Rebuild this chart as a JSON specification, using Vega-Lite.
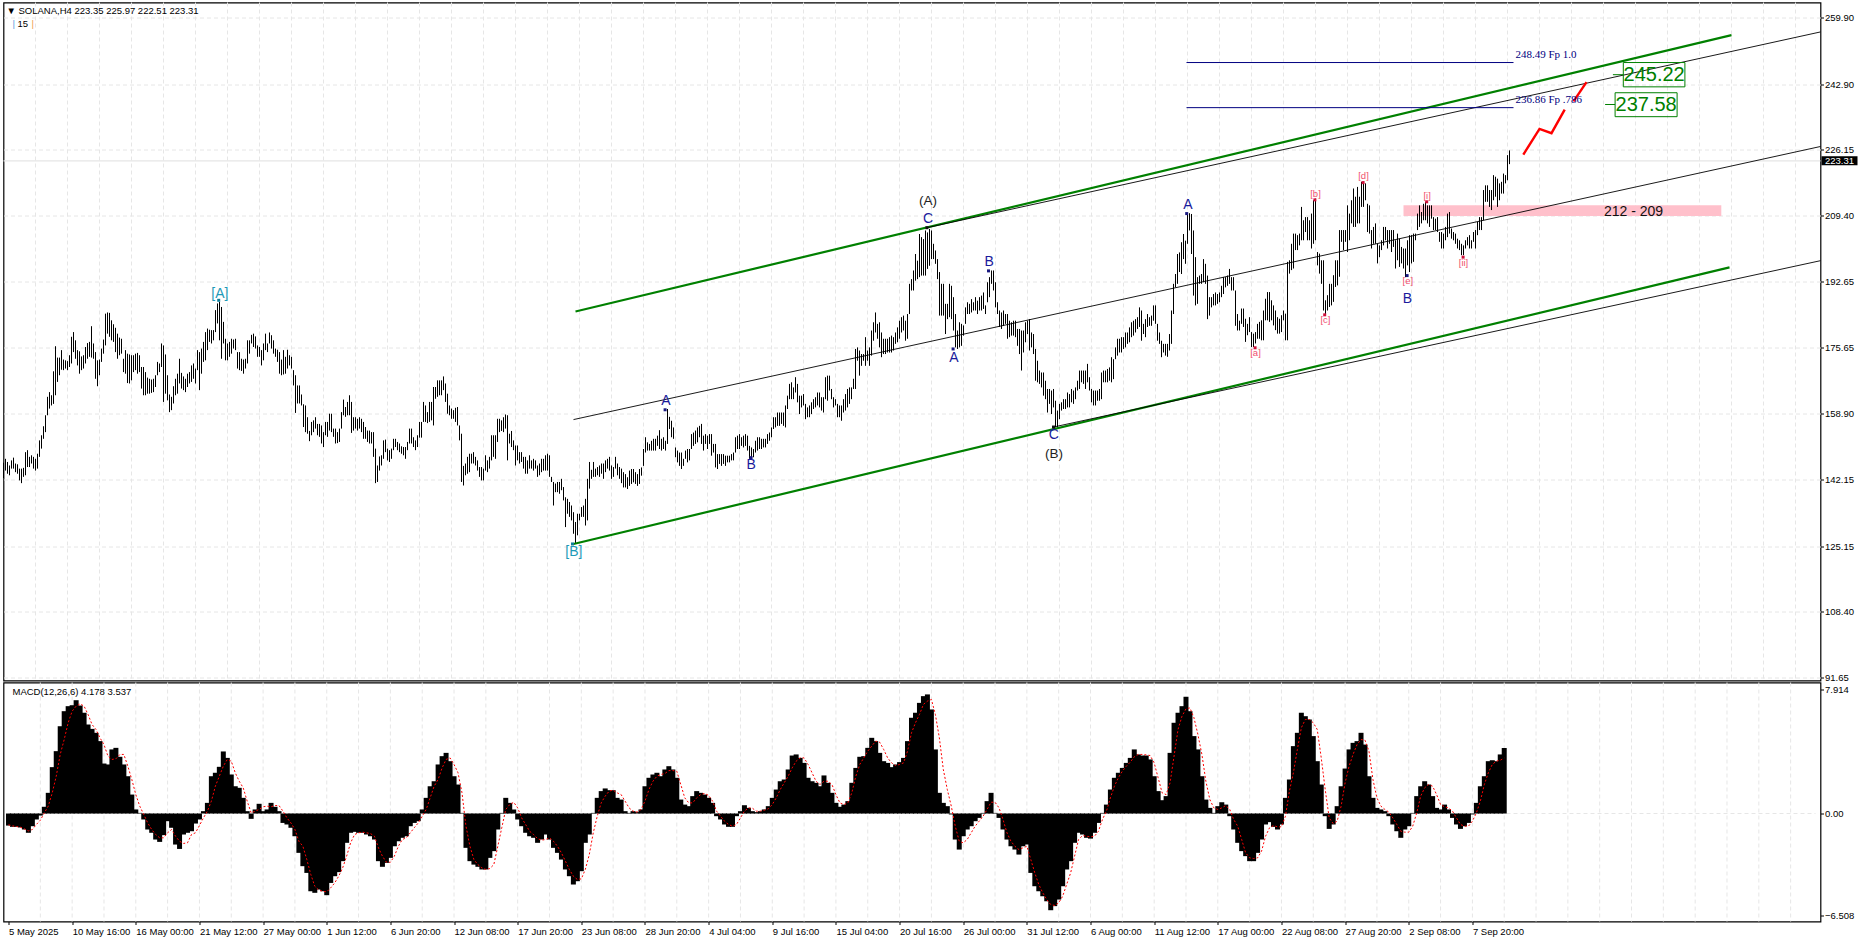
{"$schema":"https://vega.github.io/schema/vega-lite/v6.json","background":"#ffffff","padding":{"left":1.5,"top":0.5,"right":0,"bottom":0},"spacing":2,"bounds":"flush","config":{"view":{"stroke":"#000000","strokeWidth":1.2},"axis":{"domain":false,"labelFont":"Liberation Sans","labelFontSize":9.5,"labelColor":"#000000","tickColor":"#000000","tickSize":3,"title":null},"text":{"font":"Liberation Sans"}},
"datasets":{
"grid":[{"i":16},{"i":32},{"i":48},{"i":64},{"i":80},{"i":96},{"i":112},{"i":128},{"i":144},{"i":160},{"i":176},{"i":192},{"i":208},{"i":224},{"i":240},{"i":256},{"i":272},{"i":288},{"i":304},{"i":320},{"i":336},{"i":352},{"i":368},{"i":384},{"i":400},{"i":416},{"i":432},{"i":448},{"i":464},{"i":480},{"i":496},{"i":512},{"i":528},{"i":544},{"i":560},{"i":576},{"i":592},{"i":608},{"i":624},{"i":640},{"i":656},{"i":672},{"i":688},{"i":704},{"i":720},{"i":736},{"i":752},{"i":768},{"i":784},{"i":800},{"i":816},{"i":832},{"i":848},{"i":864},{"i":880},{"i":896}],
"zone":[{"a":700,"b":858.9,"p":212,"q":209.3}],
"bid":[{"a":0,"b":908.5,"p":223.31}],
"bars":[{"i":0,"h":146.4,"l":142.5},{"i":1,"h":147.4,"l":144.4},{"i":2,"h":146.6,"l":143.6},{"i":3,"h":145.7,"l":143.2},{"i":4,"h":147,"l":144.9},{"i":5,"h":147.7,"l":144.9},{"i":6,"h":146.2,"l":144},{"i":7,"h":146,"l":143.6},{"i":8,"h":144.9,"l":141.9},{"i":9,"h":144.9,"l":141.2},{"i":10,"h":145.1,"l":142.8},{"i":11,"h":149.1,"l":143.2},{"i":12,"h":149.6,"l":145.3},{"i":13,"h":147.9,"l":145.3},{"i":14,"h":148.3,"l":146.2},{"i":15,"h":147.9,"l":144.9},{"i":16,"h":147.4,"l":144.4},{"i":17,"h":148.7,"l":144.9},{"i":18,"h":152.1,"l":147.9},{"i":19,"h":153.4,"l":150},{"i":20,"h":155.7,"l":152.5},{"i":21,"h":158.5,"l":154.2},{"i":22,"h":163.2,"l":158.5},{"i":23,"h":164.4,"l":160.2},{"i":24,"h":163.6,"l":161},{"i":25,"h":169.7,"l":161.4},{"i":26,"h":176.1,"l":163.6},{"i":27,"h":173.2,"l":167},{"i":28,"h":173.2,"l":168.7},{"i":29,"h":175.1,"l":170.1},{"i":30,"h":172.7,"l":170},{"i":31,"h":172.5,"l":170.4},{"i":32,"h":172.3,"l":170},{"i":33,"h":173.8,"l":170.8},{"i":34,"h":178.5,"l":171.7},{"i":35,"h":179.7,"l":174.6},{"i":36,"h":177.6,"l":172.9},{"i":37,"h":175.1,"l":171.2},{"i":38,"h":174.8,"l":169.1},{"i":39,"h":173.5,"l":170},{"i":40,"h":173.8,"l":170.4},{"i":41,"h":175.9,"l":171.7},{"i":42,"h":176.9,"l":172.9},{"i":43,"h":177.2,"l":173.4},{"i":44,"h":181.2,"l":173.2},{"i":45,"h":176.8,"l":172.9},{"i":46,"h":174.6,"l":167.8},{"i":47,"h":172.5,"l":165.9},{"i":48,"h":172.7,"l":168.7},{"i":49,"h":175.5,"l":172.1},{"i":50,"h":177.8,"l":174.2},{"i":51,"h":184.4,"l":176.3},{"i":52,"h":184.7,"l":179.3},{"i":53,"h":184.6,"l":178.5},{"i":54,"h":182.7,"l":177.6},{"i":55,"h":181.7,"l":177.2},{"i":56,"h":180.8,"l":174.6},{"i":57,"h":179.3,"l":172.9},{"i":58,"h":178.3,"l":173.8},{"i":59,"h":178,"l":174.2},{"i":60,"h":172.9,"l":169.5},{"i":61,"h":175.1,"l":169.1},{"i":62,"h":174.2,"l":166.7},{"i":63,"h":174,"l":166.6},{"i":64,"h":173.8,"l":167.4},{"i":65,"h":173.8,"l":169.5},{"i":66,"h":174.2,"l":170},{"i":67,"h":174.4,"l":169.1},{"i":68,"h":173.8,"l":169.5},{"i":69,"h":170.8,"l":165.3},{"i":70,"h":170.8,"l":163.6},{"i":71,"h":169.5,"l":163.6},{"i":72,"h":168.1,"l":164},{"i":73,"h":167.8,"l":164},{"i":74,"h":167.6,"l":164.2},{"i":75,"h":167.8,"l":164.4},{"i":76,"h":168.7,"l":165.7},{"i":77,"h":172.1,"l":168.7},{"i":78,"h":171.7,"l":169.5},{"i":79,"h":176.8,"l":170.8},{"i":80,"h":176.3,"l":161.9},{"i":81,"h":174,"l":164},{"i":82,"h":168.7,"l":162.3},{"i":83,"h":163.8,"l":159.3},{"i":84,"h":163.2,"l":159.8},{"i":85,"h":165.9,"l":161.5},{"i":86,"h":167.8,"l":163.6},{"i":87,"h":169.1,"l":164},{"i":88,"h":172.9,"l":166.6},{"i":89,"h":169.3,"l":165.3},{"i":90,"h":168.4,"l":164.9},{"i":91,"h":167.8,"l":164.4},{"i":92,"h":169.1,"l":165.7},{"i":93,"h":169.5,"l":166.6},{"i":94,"h":171.2,"l":167},{"i":95,"h":171.7,"l":167.8},{"i":96,"h":170.4,"l":166.6},{"i":97,"h":175.1,"l":170},{"i":98,"h":174.6,"l":164.9},{"i":99,"h":175.5,"l":169.1},{"i":100,"h":177.2,"l":172.1},{"i":101,"h":179.7,"l":172.5},{"i":102,"h":180.6,"l":175.1},{"i":103,"h":180.3,"l":177.2},{"i":104,"h":180.2,"l":176.8},{"i":105,"h":180.2,"l":177.6},{"i":106,"h":185.3,"l":179.7},{"i":107,"h":187,"l":181.9},{"i":108,"h":187.4,"l":177.6},{"i":109,"h":186.1,"l":172.9},{"i":110,"h":182.3,"l":176.8},{"i":111,"h":178,"l":172.5},{"i":112,"h":176.8,"l":172.5},{"i":113,"h":177.2,"l":173.4},{"i":114,"h":178,"l":174.2},{"i":115,"h":177.8,"l":175.5},{"i":116,"h":178,"l":175.1},{"i":117,"h":174.6,"l":170.4},{"i":118,"h":174.6,"l":170},{"i":119,"h":172.9,"l":169.8},{"i":120,"h":172.7,"l":169.1},{"i":121,"h":172.9,"l":170.4},{"i":122,"h":177.6,"l":171.7},{"i":123,"h":177.6,"l":174.2},{"i":124,"h":179,"l":176.8},{"i":125,"h":179.3,"l":175.9},{"i":126,"h":178.6,"l":175.5},{"i":127,"h":176.3,"l":173.4},{"i":128,"h":175.9,"l":173.4},{"i":129,"h":175.1,"l":171.2},{"i":130,"h":176.8,"l":172.5},{"i":131,"h":179.3,"l":175.1},{"i":132,"h":176.8,"l":174.6},{"i":133,"h":179.6,"l":176.8},{"i":134,"h":178.9,"l":175.5},{"i":135,"h":177.6,"l":174.2},{"i":136,"h":175.5,"l":173.4},{"i":137,"h":175.2,"l":172.1},{"i":138,"h":174.6,"l":169.1},{"i":139,"h":172.7,"l":168.7},{"i":140,"h":175.1,"l":168.9},{"i":141,"h":173.4,"l":169.1},{"i":142,"h":175.2,"l":170.4},{"i":143,"h":173.8,"l":171.2},{"i":144,"h":173.4,"l":170.4},{"i":145,"h":170,"l":166.1},{"i":146,"h":168.7,"l":159.1},{"i":147,"h":166.1,"l":161.5},{"i":148,"h":166.1,"l":161.5},{"i":149,"h":163.8,"l":161},{"i":150,"h":161.3,"l":155.5},{"i":151,"h":161,"l":154.2},{"i":152,"h":158,"l":153.8},{"i":153,"h":154.5,"l":151.9},{"i":154,"h":156.8,"l":153.4},{"i":155,"h":157.2,"l":154.2},{"i":156,"h":158,"l":155.1},{"i":157,"h":156.3,"l":153.4},{"i":158,"h":156.3,"l":153},{"i":159,"h":155.9,"l":151.3},{"i":160,"h":154.2,"l":150.4},{"i":161,"h":156.8,"l":153.4},{"i":162,"h":156.8,"l":153},{"i":163,"h":158.9,"l":154.6},{"i":164,"h":158.9,"l":154.2},{"i":165,"h":155.1,"l":153},{"i":166,"h":155.1,"l":151.3},{"i":167,"h":154.2,"l":151.4},{"i":168,"h":155.1,"l":151.7},{"i":169,"h":159.3,"l":155.1},{"i":170,"h":162.5,"l":158.5},{"i":171,"h":160.6,"l":158.1},{"i":172,"h":161.9,"l":158.5},{"i":173,"h":163.6,"l":158.5},{"i":174,"h":161.9,"l":154},{"i":175,"h":158,"l":154.6},{"i":176,"h":158,"l":155.1},{"i":177,"h":157.6,"l":154.6},{"i":178,"h":158,"l":155.1},{"i":179,"h":157.6,"l":154.2},{"i":180,"h":156.8,"l":152.5},{"i":181,"h":155.5,"l":152.5},{"i":182,"h":154.6,"l":151.7},{"i":183,"h":154.6,"l":151.3},{"i":184,"h":154.2,"l":151.3},{"i":185,"h":154.2,"l":147.9},{"i":186,"h":150,"l":141.2},{"i":187,"h":145.7,"l":141.5},{"i":188,"h":148,"l":144.4},{"i":189,"h":148.3,"l":145.7},{"i":190,"h":152.1,"l":147.4},{"i":191,"h":152.3,"l":149.1},{"i":192,"h":150,"l":147},{"i":193,"h":149.6,"l":146.6},{"i":194,"h":150,"l":147.4},{"i":195,"h":152.5,"l":149.6},{"i":196,"h":152.5,"l":150.4},{"i":197,"h":151.7,"l":149.6},{"i":198,"h":151.3,"l":149.1},{"i":199,"h":150.6,"l":148.7},{"i":200,"h":150.4,"l":148.3},{"i":201,"h":150.4,"l":147.4},{"i":202,"h":151.7,"l":149.6},{"i":203,"h":155.1,"l":151.3},{"i":204,"h":155.1,"l":151.3},{"i":205,"h":152.9,"l":150.4},{"i":206,"h":152.1,"l":149.6},{"i":207,"h":153.4,"l":150.4},{"i":208,"h":156.8,"l":152.8},{"i":209,"h":156.8,"l":152.8},{"i":210,"h":161.9,"l":156.8},{"i":211,"h":161,"l":156.8},{"i":212,"h":159.3,"l":156.5},{"i":213,"h":161.9,"l":156.8},{"i":214,"h":161.9,"l":157.2},{"i":215,"h":165.7,"l":155.9},{"i":216,"h":165.7,"l":162.7},{"i":217,"h":167.4,"l":163.2},{"i":218,"h":167.4,"l":163.6},{"i":219,"h":167.4,"l":163.6},{"i":220,"h":168.4,"l":164.9},{"i":221,"h":166.6,"l":161.9},{"i":222,"h":164,"l":158.9},{"i":223,"h":161,"l":158.5},{"i":224,"h":160.2,"l":157.6},{"i":225,"h":159.8,"l":157.6},{"i":226,"h":160.4,"l":156.8},{"i":227,"h":160.6,"l":155.9},{"i":228,"h":155.9,"l":152.1},{"i":229,"h":153.8,"l":141.5},{"i":230,"h":145.6,"l":140.6},{"i":231,"h":146.2,"l":143.2},{"i":232,"h":147.9,"l":143.6},{"i":233,"h":148.7,"l":144},{"i":234,"h":148.7,"l":146.2},{"i":235,"h":149.1,"l":146.2},{"i":236,"h":147.9,"l":145.7},{"i":237,"h":147,"l":144.4},{"i":238,"h":145.3,"l":142.8},{"i":239,"h":145.3,"l":141.9},{"i":240,"h":144.9,"l":141.9},{"i":241,"h":148.3,"l":144.4},{"i":242,"h":147,"l":144},{"i":243,"h":147.9,"l":144.9},{"i":244,"h":153.4,"l":147},{"i":245,"h":153.4,"l":147.9},{"i":246,"h":153.4,"l":147.4},{"i":247,"h":157.6,"l":151.7},{"i":248,"h":157.6,"l":154.2},{"i":249,"h":157.2,"l":154.5},{"i":250,"h":158,"l":154.2},{"i":251,"h":158.7,"l":155.1},{"i":252,"h":158.5,"l":147},{"i":253,"h":153.8,"l":151.3},{"i":254,"h":154.5,"l":150.4},{"i":255,"h":152.1,"l":149.6},{"i":256,"h":150.8,"l":145.7},{"i":257,"h":150.8,"l":147},{"i":258,"h":149.1,"l":146.2},{"i":259,"h":149.1,"l":146.6},{"i":260,"h":147.9,"l":144.9},{"i":261,"h":147.9,"l":143.6},{"i":262,"h":147,"l":143.6},{"i":263,"h":148.3,"l":144.9},{"i":264,"h":147,"l":144.9},{"i":265,"h":147.4,"l":144.4},{"i":266,"h":147,"l":144.9},{"i":267,"h":145.7,"l":142.8},{"i":268,"h":146.2,"l":143.2},{"i":269,"h":147.4,"l":144},{"i":270,"h":147.4,"l":144.4},{"i":271,"h":148.3,"l":144.4},{"i":272,"h":148.7,"l":144.4},{"i":273,"h":148.3,"l":142.8},{"i":274,"h":142.8,"l":141.5},{"i":275,"h":141.5,"l":135.5},{"i":276,"h":141.1,"l":138.9},{"i":277,"h":141.5,"l":138.9},{"i":278,"h":141.5,"l":138.5},{"i":279,"h":142.3,"l":139.4},{"i":280,"h":140.2,"l":136.8},{"i":281,"h":137.6,"l":130},{"i":282,"h":137.2,"l":133.4},{"i":283,"h":136.4,"l":132.6},{"i":284,"h":135.5,"l":131.7},{"i":285,"h":133.8,"l":128.3},{"i":286,"h":131.3,"l":125.7},{"i":287,"h":133.4,"l":127.9},{"i":288,"h":133.4,"l":131.7},{"i":289,"h":135.1,"l":132.6},{"i":290,"h":135.5,"l":132.6},{"i":291,"h":137.2,"l":130.4},{"i":292,"h":142.3,"l":131.7},{"i":293,"h":146.6,"l":139.8},{"i":294,"h":144.6,"l":142.3},{"i":295,"h":146.6,"l":142.8},{"i":296,"h":144.9,"l":142.8},{"i":297,"h":145.3,"l":143.2},{"i":298,"h":145.7,"l":142.8},{"i":299,"h":146.2,"l":143.6},{"i":300,"h":146.2,"l":142.3},{"i":301,"h":147,"l":144},{"i":302,"h":147.4,"l":144.9},{"i":303,"h":147.9,"l":144.4},{"i":304,"h":145.7,"l":142.3},{"i":305,"h":145.3,"l":142.8},{"i":306,"h":147.9,"l":144.9},{"i":307,"h":146.2,"l":143.2},{"i":308,"h":145.3,"l":142.3},{"i":309,"h":144.9,"l":141.2},{"i":310,"h":144,"l":140.1},{"i":311,"h":143.5,"l":140.1},{"i":312,"h":142.7,"l":139.7},{"i":313,"h":144.4,"l":140.5},{"i":314,"h":144.8,"l":141},{"i":315,"h":144.8,"l":141.4},{"i":316,"h":144,"l":141},{"i":317,"h":143.5,"l":140.5},{"i":318,"h":144.8,"l":141},{"i":319,"h":145.2,"l":143.1},{"i":320,"h":149.9,"l":145.6},{"i":321,"h":152.9,"l":149},{"i":322,"h":151.6,"l":149.5},{"i":323,"h":151.2,"l":149.5},{"i":324,"h":152,"l":149.5},{"i":325,"h":152.5,"l":149.5},{"i":326,"h":152.5,"l":149.5},{"i":327,"h":153.3,"l":150.7},{"i":328,"h":154.7,"l":149.9},{"i":329,"h":152.5,"l":149.5},{"i":330,"h":152.9,"l":149.9},{"i":331,"h":152,"l":149.5},{"i":332,"h":160.1,"l":151.2},{"i":333,"h":158.1,"l":155},{"i":334,"h":157.1,"l":152.9},{"i":335,"h":155.4,"l":152.5},{"i":336,"h":150.3,"l":147.8},{"i":337,"h":149.5,"l":146.5},{"i":338,"h":149,"l":145.6},{"i":339,"h":149,"l":144.8},{"i":340,"h":147.4,"l":145.6},{"i":341,"h":149.5,"l":147.4},{"i":342,"h":149.9,"l":146.5},{"i":343,"h":149.9,"l":147},{"i":344,"h":153.7,"l":149.9},{"i":345,"h":154.1,"l":150.7},{"i":346,"h":154.6,"l":151.2},{"i":347,"h":155.4,"l":151.6},{"i":348,"h":155.8,"l":152.9},{"i":349,"h":156.3,"l":151.2},{"i":350,"h":153.3,"l":149.5},{"i":351,"h":153.7,"l":151.2},{"i":352,"h":153.3,"l":149.9},{"i":353,"h":153.7,"l":151.2},{"i":354,"h":153.7,"l":148.2},{"i":355,"h":151.2,"l":149},{"i":356,"h":151.2,"l":145.2},{"i":357,"h":148.6,"l":144.8},{"i":358,"h":148.6,"l":146.1},{"i":359,"h":148.6,"l":145.6},{"i":360,"h":148.6,"l":146.1},{"i":361,"h":148.2,"l":145.6},{"i":362,"h":148.2,"l":146.5},{"i":363,"h":148.2,"l":146.5},{"i":364,"h":148.6,"l":147},{"i":365,"h":149,"l":147},{"i":366,"h":152.9,"l":149},{"i":367,"h":153.3,"l":149.9},{"i":368,"h":153.7,"l":149.9},{"i":369,"h":152.9,"l":150.7},{"i":370,"h":153.3,"l":150.3},{"i":371,"h":153.7,"l":150.7},{"i":372,"h":153.3,"l":149.5},{"i":373,"h":150.7,"l":147.4},{"i":374,"h":150.3,"l":147.4},{"i":375,"h":149.9,"l":147.8},{"i":376,"h":152,"l":149},{"i":377,"h":152.9,"l":149.5},{"i":378,"h":152.9,"l":149.9},{"i":379,"h":152.5,"l":149.9},{"i":380,"h":152.5,"l":150.3},{"i":381,"h":152.5,"l":150.3},{"i":382,"h":153.7,"l":151.2},{"i":383,"h":154.1,"l":152},{"i":384,"h":155.4,"l":152.9},{"i":385,"h":158,"l":155},{"i":386,"h":158,"l":155.4},{"i":387,"h":159.2,"l":155.8},{"i":388,"h":159.2,"l":155.8},{"i":389,"h":159.2,"l":156.3},{"i":390,"h":159.2,"l":155.8},{"i":391,"h":161,"l":155.4},{"i":392,"h":163.5,"l":160.1},{"i":393,"h":166.5,"l":162.6},{"i":394,"h":166.9,"l":162.6},{"i":395,"h":165.6,"l":162.6},{"i":396,"h":168.2,"l":164.3},{"i":397,"h":166.5,"l":161.8},{"i":398,"h":163.5,"l":158.8},{"i":399,"h":163.5,"l":160.5},{"i":400,"h":163.9,"l":161},{"i":401,"h":161.4,"l":157.5},{"i":402,"h":160.5,"l":158},{"i":403,"h":161,"l":158},{"i":404,"h":161.8,"l":158.8},{"i":405,"h":162.6,"l":160.1},{"i":406,"h":163.1,"l":160.5},{"i":407,"h":164.3,"l":161},{"i":408,"h":164.3,"l":160.5},{"i":409,"h":163.1,"l":159.7},{"i":410,"h":163.1,"l":159.2},{"i":411,"h":168.2,"l":162.6},{"i":412,"h":168.6,"l":162.2},{"i":413,"h":168.6,"l":164.8},{"i":414,"h":165.2,"l":162.6},{"i":415,"h":163.1,"l":160.5},{"i":416,"h":162.6,"l":161},{"i":417,"h":161.4,"l":158},{"i":418,"h":161,"l":158},{"i":419,"h":161,"l":157.1},{"i":420,"h":162.6,"l":159.2},{"i":421,"h":163.9,"l":159.7},{"i":422,"h":165.2,"l":160.5},{"i":423,"h":165.6,"l":161.4},{"i":424,"h":165.6,"l":162.6},{"i":425,"h":167.8,"l":165.2},{"i":426,"h":175.4,"l":165.2},{"i":427,"h":175.8,"l":172.4},{"i":428,"h":175,"l":168.6},{"i":429,"h":174.1,"l":171.1},{"i":430,"h":174.1,"l":172.4},{"i":431,"h":178.4,"l":171.1},{"i":432,"h":175,"l":172.4},{"i":433,"h":175.8,"l":171.1},{"i":434,"h":180.1,"l":173.7},{"i":435,"h":182.2,"l":177.5},{"i":436,"h":184.7,"l":179.6},{"i":437,"h":181.8,"l":178},{"i":438,"h":182.2,"l":175.8},{"i":439,"h":179.6,"l":173.3},{"i":440,"h":178,"l":174.1},{"i":441,"h":178,"l":174.1},{"i":442,"h":178,"l":174.5},{"i":443,"h":178.4,"l":174.5},{"i":444,"h":178.8,"l":174.5},{"i":445,"h":178.4,"l":175},{"i":446,"h":179.6,"l":176.7},{"i":447,"h":180.9,"l":177.1},{"i":448,"h":182.6,"l":178},{"i":449,"h":183.5,"l":179.6},{"i":450,"h":183.9,"l":180.1},{"i":451,"h":182.6,"l":177.5},{"i":452,"h":184.3,"l":178},{"i":453,"h":192,"l":184.3},{"i":454,"h":193.2,"l":190.3},{"i":455,"h":195.4,"l":190.3},{"i":456,"h":199.6,"l":192.8},{"i":457,"h":197.9,"l":193.2},{"i":458,"h":204.7,"l":193.7},{"i":459,"h":203.9,"l":194.1},{"i":460,"h":203.4,"l":194.1},{"i":461,"h":205.6,"l":194.1},{"i":462,"h":205.1,"l":195.8},{"i":463,"h":206,"l":196.6},{"i":464,"h":205.6,"l":198.3},{"i":465,"h":202.2,"l":198.3},{"i":466,"h":200.5,"l":197.1},{"i":467,"h":198.3,"l":193.2},{"i":468,"h":195,"l":183.9},{"i":469,"h":192,"l":183.9},{"i":470,"h":192,"l":183.9},{"i":471,"h":186.9,"l":179.2},{"i":472,"h":186.9,"l":183},{"i":473,"h":192,"l":183.5},{"i":474,"h":191.5,"l":183},{"i":475,"h":188.6,"l":180.1},{"i":476,"h":184.3,"l":175.8},{"i":477,"h":180.1,"l":175.4},{"i":478,"h":182.2,"l":175.8},{"i":479,"h":181.8,"l":176.2},{"i":480,"h":181.4,"l":178.8},{"i":481,"h":186,"l":181.8},{"i":482,"h":187.3,"l":184.3},{"i":483,"h":186.9,"l":184.3},{"i":484,"h":188.1,"l":184.7},{"i":485,"h":187.3,"l":185.2},{"i":486,"h":188.6,"l":185.2},{"i":487,"h":187.7,"l":184.3},{"i":488,"h":188.6,"l":185.2},{"i":489,"h":189,"l":185.2},{"i":490,"h":189.8,"l":185.6},{"i":491,"h":186.5,"l":184.3},{"i":492,"h":192.4,"l":187.3},{"i":493,"h":193.7,"l":188.6},{"i":494,"h":195.4,"l":192},{"i":495,"h":195.4,"l":190.3},{"i":496,"h":192.4,"l":186},{"i":497,"h":187.3,"l":184.3},{"i":498,"h":185.2,"l":181},{"i":499,"h":184.7,"l":180.5},{"i":500,"h":185.2,"l":181.3},{"i":501,"h":184.3,"l":181.8},{"i":502,"h":184.3,"l":178},{"i":503,"h":182.6,"l":178.4},{"i":504,"h":182.2,"l":178.8},{"i":505,"h":182.6,"l":178.8},{"i":506,"h":182.6,"l":178.4},{"i":507,"h":180.5,"l":176.2},{"i":508,"h":180.5,"l":174.1},{"i":509,"h":180.1,"l":169.9},{"i":510,"h":180.1,"l":174.5},{"i":511,"h":182.2,"l":177.1},{"i":512,"h":182.6,"l":179.2},{"i":513,"h":183,"l":175},{"i":514,"h":179.6,"l":175.8},{"i":515,"h":179.2,"l":174.1},{"i":516,"h":175.4,"l":167.3},{"i":517,"h":172.4,"l":166.9},{"i":518,"h":169.9,"l":166.5},{"i":519,"h":169.4,"l":165.6},{"i":520,"h":169.4,"l":163.5},{"i":521,"h":167.3,"l":162.6},{"i":522,"h":165.2,"l":159.2},{"i":523,"h":165.2,"l":161.4},{"i":524,"h":164.8,"l":158.8},{"i":525,"h":165.2,"l":160.5},{"i":526,"h":162.2,"l":155.4},{"i":527,"h":159.7,"l":155.4},{"i":528,"h":161.4,"l":157.5},{"i":529,"h":161.8,"l":159.7},{"i":530,"h":162.6,"l":160.1},{"i":531,"h":162.6,"l":160.1},{"i":532,"h":164.3,"l":160.5},{"i":533,"h":163.9,"l":160.5},{"i":534,"h":165.2,"l":161.8},{"i":535,"h":164.8,"l":161.4},{"i":536,"h":165.6,"l":162.6},{"i":537,"h":167.3,"l":164.8},{"i":538,"h":169.9,"l":165.2},{"i":539,"h":169.9,"l":166.9},{"i":540,"h":169.9,"l":166.5},{"i":541,"h":169.9,"l":165.2},{"i":542,"h":171.6,"l":166.9},{"i":543,"h":168.2,"l":164.8},{"i":544,"h":165.2,"l":161.8},{"i":545,"h":164.8,"l":161},{"i":546,"h":164.8,"l":161},{"i":547,"h":164.8,"l":162.2},{"i":548,"h":165.2,"l":162.2},{"i":549,"h":169.4,"l":162.6},{"i":550,"h":169.9,"l":166.9},{"i":551,"h":169.9,"l":166.9},{"i":552,"h":170.3,"l":166.9},{"i":553,"h":170.7,"l":167.3},{"i":554,"h":173.3,"l":166.9},{"i":555,"h":172.8,"l":167.7},{"i":556,"h":175.8,"l":172.8},{"i":557,"h":178,"l":173.7},{"i":558,"h":178,"l":174.5},{"i":559,"h":178.4,"l":174.5},{"i":560,"h":178.4,"l":175.4},{"i":561,"h":179.6,"l":175.8},{"i":562,"h":179.6,"l":176.7},{"i":563,"h":180.9,"l":177.1},{"i":564,"h":182.2,"l":178.4},{"i":565,"h":182.6,"l":178.8},{"i":566,"h":183,"l":179.6},{"i":567,"h":183.5,"l":180.5},{"i":568,"h":186,"l":181},{"i":569,"h":185.2,"l":177.5},{"i":570,"h":181.8,"l":179.2},{"i":571,"h":183,"l":178.4},{"i":572,"h":184.3,"l":181},{"i":573,"h":183.5,"l":181.3},{"i":574,"h":183.9,"l":181.3},{"i":575,"h":186.5,"l":182.6},{"i":576,"h":186.5,"l":181.8},{"i":577,"h":181.8,"l":177.5},{"i":578,"h":179.6,"l":176.7},{"i":579,"h":177.5,"l":173.3},{"i":580,"h":176.7,"l":174.5},{"i":581,"h":176.7,"l":173.7},{"i":582,"h":176.7,"l":173.4},{"i":583,"h":179.2,"l":175},{"i":584,"h":185.2,"l":176.7},{"i":585,"h":192,"l":184.3},{"i":586,"h":194.5,"l":191.1},{"i":587,"h":199.6,"l":192},{"i":588,"h":200,"l":195},{"i":589,"h":202.6,"l":194.5},{"i":590,"h":204.7,"l":198.3},{"i":591,"h":203,"l":197.1},{"i":592,"h":209.8,"l":202.2},{"i":593,"h":210,"l":205.6},{"i":594,"h":209.8,"l":199.6},{"i":595,"h":205.6,"l":189},{"i":596,"h":198.8,"l":186.5},{"i":597,"h":193.7,"l":186.9},{"i":598,"h":194.1,"l":192},{"i":599,"h":194.5,"l":192},{"i":600,"h":198.3,"l":192.4},{"i":601,"h":197.1,"l":192},{"i":602,"h":194.1,"l":183},{"i":603,"h":188.6,"l":183.9},{"i":604,"h":188.6,"l":186},{"i":605,"h":189.4,"l":186.5},{"i":606,"h":189.8,"l":186.5},{"i":607,"h":189.4,"l":186.9},{"i":608,"h":189.8,"l":187.3},{"i":609,"h":191.5,"l":188.6},{"i":610,"h":193.7,"l":189.4},{"i":611,"h":193.7,"l":191.1},{"i":612,"h":194.1,"l":191.5},{"i":613,"h":195.8,"l":192},{"i":614,"h":193.7,"l":190.3},{"i":615,"h":193.7,"l":190.3},{"i":616,"h":190.3,"l":181.3},{"i":617,"h":184.3,"l":180.1},{"i":618,"h":182.6,"l":180.1},{"i":619,"h":185.7,"l":181.8},{"i":620,"h":185.7,"l":181},{"i":621,"h":183.1,"l":177.2},{"i":622,"h":181.8,"l":178.9},{"i":623,"h":183.5,"l":179.7},{"i":624,"h":179.7,"l":175.9},{"i":625,"h":179.3,"l":175.9},{"i":626,"h":179.7,"l":176.8},{"i":627,"h":181.8,"l":178},{"i":628,"h":182.3,"l":178},{"i":629,"h":182.7,"l":177.6},{"i":630,"h":185.2,"l":177.6},{"i":631,"h":188.2,"l":182.7},{"i":632,"h":189.9,"l":182.7},{"i":633,"h":189.9,"l":182.3},{"i":634,"h":187.8,"l":182.7},{"i":635,"h":186.5,"l":181.4},{"i":636,"h":185.2,"l":180.2},{"i":637,"h":183.5,"l":179.3},{"i":638,"h":183.1,"l":179.3},{"i":639,"h":184,"l":179.7},{"i":640,"h":185.2,"l":182.7},{"i":641,"h":184.4,"l":177.6},{"i":642,"h":197.6,"l":177.6},{"i":643,"h":198,"l":194.6},{"i":644,"h":202.2,"l":195.5},{"i":645,"h":204.8,"l":195.9},{"i":646,"h":204.8,"l":200.6},{"i":647,"h":204.4,"l":200.6},{"i":648,"h":204.8,"l":201.8},{"i":649,"h":211.6,"l":203.1},{"i":650,"h":208.2,"l":203.1},{"i":651,"h":209,"l":205.2},{"i":652,"h":209,"l":203.1},{"i":653,"h":208.2,"l":203.1},{"i":654,"h":209.9,"l":201},{"i":655,"h":213.3,"l":202.2},{"i":656,"h":213.7,"l":203.1},{"i":657,"h":200.1,"l":196.7},{"i":658,"h":199.7,"l":194.6},{"i":659,"h":198,"l":192},{"i":660,"h":198,"l":185.2},{"i":661,"h":187.8,"l":184},{"i":662,"h":189.1,"l":185.2},{"i":663,"h":192,"l":186.1},{"i":664,"h":192,"l":186.5},{"i":665,"h":194.2,"l":187.4},{"i":666,"h":198,"l":191.2},{"i":667,"h":198,"l":191.6},{"i":668,"h":205.7,"l":193.8},{"i":669,"h":205.7,"l":202.7},{"i":670,"h":205.7,"l":200.6},{"i":671,"h":205.7,"l":202.7},{"i":672,"h":212,"l":200.1},{"i":673,"h":209.9,"l":203.1},{"i":674,"h":213.3,"l":207.4},{"i":675,"h":216.3,"l":206.5},{"i":676,"h":214.2,"l":206.5},{"i":677,"h":216.7,"l":207.4},{"i":678,"h":214.2,"l":207.4},{"i":679,"h":218,"l":211.6},{"i":680,"h":218,"l":211.6},{"i":681,"h":217.6,"l":213.3},{"i":682,"h":212.4,"l":205.2},{"i":683,"h":212,"l":204.8},{"i":684,"h":205.7,"l":201},{"i":685,"h":206.5,"l":202.2},{"i":686,"h":207.4,"l":202.2},{"i":687,"h":202.2,"l":197.2},{"i":688,"h":201.8,"l":198.8},{"i":689,"h":203.1,"l":200.6},{"i":690,"h":206.5,"l":201.8},{"i":691,"h":206.5,"l":203.1},{"i":692,"h":205.7,"l":201},{"i":693,"h":205.7,"l":202.2},{"i":694,"h":205.7,"l":200.1},{"i":695,"h":205.7,"l":201.4},{"i":696,"h":203.1,"l":195.9},{"i":697,"h":204.8,"l":198},{"i":698,"h":203.5,"l":196.3},{"i":699,"h":201.4,"l":197.2},{"i":700,"h":201,"l":195.9},{"i":701,"h":201,"l":193.7},{"i":702,"h":203.1,"l":196.7},{"i":703,"h":204.4,"l":195},{"i":704,"h":204.4,"l":197.2},{"i":705,"h":204.8,"l":197.6},{"i":706,"h":204.8,"l":203.1},{"i":707,"h":209.9,"l":205.7},{"i":708,"h":212,"l":206.5},{"i":709,"h":210.3,"l":207.4},{"i":710,"h":212.4,"l":208.2},{"i":711,"h":212.9,"l":208.2},{"i":712,"h":212,"l":207.4},{"i":713,"h":212,"l":206.5},{"i":714,"h":212,"l":208.6},{"i":715,"h":209,"l":205.7},{"i":716,"h":208.6,"l":205.7},{"i":717,"h":209,"l":205.2},{"i":718,"h":205.2,"l":202.7},{"i":719,"h":205.2,"l":201},{"i":720,"h":204.8,"l":201},{"i":721,"h":206.5,"l":203.1},{"i":722,"h":209.9,"l":203.9},{"i":723,"h":210.3,"l":204.8},{"i":724,"h":206.1,"l":203.5},{"i":725,"h":205.2,"l":203.1},{"i":726,"h":204.8,"l":202.2},{"i":727,"h":203.5,"l":201},{"i":728,"h":203.1,"l":200.6},{"i":729,"h":202.2,"l":199.3},{"i":730,"h":201.8,"l":199.3},{"i":731,"h":203.1,"l":201},{"i":732,"h":203.9,"l":201.8},{"i":733,"h":204.4,"l":201},{"i":734,"h":203.1,"l":201},{"i":735,"h":205.2,"l":202.7},{"i":736,"h":205.7,"l":201},{"i":737,"h":207.8,"l":204.4},{"i":738,"h":209,"l":205.7},{"i":739,"h":209,"l":205.7},{"i":740,"h":215.9,"l":208.2},{"i":741,"h":217.1,"l":212.9},{"i":742,"h":217.1,"l":212.9},{"i":743,"h":215.9,"l":211.6},{"i":744,"h":215.9,"l":210.8},{"i":745,"h":219.7,"l":213.3},{"i":746,"h":219.3,"l":214.2},{"i":747,"h":218.8,"l":211.6},{"i":748,"h":217.6,"l":213.3},{"i":749,"h":218,"l":215},{"i":750,"h":220.1,"l":215},{"i":751,"h":219.7,"l":217.6},{"i":752,"h":224.8,"l":218.4},{"i":753,"h":226,"l":222.5}],
"lines":[{"a":286,"b":864,"p":184.95,"q":255.4,"k":"g"},{"a":285,"b":863,"p":125.7,"q":196.2,"k":"g"},{"a":461.7,"b":908.5,"p":206.3,"q":256.2,"k":"b"},{"a":285,"b":908.5,"p":157.4,"q":227,"k":"b"},{"a":525,"b":908.5,"p":155.5,"q":197.9,"k":"b"},{"a":591.5,"b":755,"p":248.4,"q":248.4,"k":"f"},{"a":591.5,"b":755,"p":236.9,"q":236.9,"k":"f"},{"a":804.7,"b":809.9,"p":245.3,"q":245.3,"k":"t"},{"a":800.8,"b":805.8,"p":237.7,"q":237.7,"k":"t"}],
"proj":[{"i":759.9,"p":224.9,"s":1},{"i":768,"p":231.5,"s":1},{"i":774,"p":230.4,"s":1},{"i":780.6,"p":236.4,"s":1},{"i":785,"p":238.5,"s":2},{"i":791.5,"p":243.4,"s":2}],
"boxes":[{"a":809.9,"b":840.7,"p":248.4,"q":242.2},{"a":805.8,"b":836.8,"p":240.7,"q":234.6}],
"dots":[{"i":107.6,"p":187.8,"k":"teal"},{"i":284.5,"p":125.7,"k":"teal"},{"i":461.7,"p":206.3,"k":"black"},{"i":330.8,"p":159.9,"k":"wave"},{"i":373.8,"p":147.7,"k":"wave"},{"i":474.8,"p":175.4,"k":"wave"},{"i":492.5,"p":195.3,"k":"wave"},{"i":525,"p":155.5,"k":"black"},{"i":591.6,"p":209.9,"k":"wave"},{"i":655.7,"p":213.4,"k":"pink"},{"i":679.8,"p":217.8,"k":"pink"},{"i":660.6,"p":184.1,"k":"pink"},{"i":625.8,"p":175.7,"k":"pink"},{"i":701.8,"p":194.1,"k":"wave"},{"i":711.6,"p":212.9,"k":"pink"},{"i":729.8,"p":198.8,"k":"pink"}],
"labels":[{"i":108.2,"p":189.5,"t":"[A]","k":"teal"},{"i":285.2,"p":123.6,"t":"[B]","k":"teal"},{"i":462.3,"p":213.1,"t":"(A)","k":"black"},{"i":462.3,"p":208.4,"t":"C","k":"wave"},{"i":331.2,"p":162.1,"t":"A","k":"wave"},{"i":373.8,"p":145.7,"t":"B","k":"wave"},{"i":475.2,"p":173.1,"t":"A","k":"wave"},{"i":492.8,"p":197.5,"t":"B","k":"wave"},{"i":525.2,"p":153.5,"t":"C","k":"wave"},{"i":525.2,"p":148.7,"t":"(B)","k":"black"},{"i":592.2,"p":212.2,"t":"A","k":"wave"},{"i":702,"p":188.2,"t":"B","k":"wave"},{"i":656,"p":214.9,"t":"[b]","k":"pink"},{"i":680,"p":219.4,"t":"[d]","k":"pink"},{"i":661,"p":182.7,"t":"[c]","k":"pink"},{"i":626,"p":174.3,"t":"[a]","k":"pink"},{"i":702.2,"p":192.6,"t":"[e]","k":"pink"},{"i":711.8,"p":214.5,"t":"[i]","k":"pink"},{"i":730,"p":197.4,"t":"[ii]","k":"pink"},{"i":815,"p":210.2,"t":"212 - 209","k":"zone"},{"i":825.3,"p":245.3,"t":"245.22","k":"box"},{"i":821.3,"p":237.65,"t":"237.58","k":"box"}],
"fibtext":[{"i":756,"p":250.3,"t":"248.49 Fp 1.0"},{"i":756,"p":238.8,"t":"236.86 Fp .786"}],
"hdr":[{"i":1.5,"p":261.5,"t":"▼","k":"txt"},{"i":7.5,"p":261.5,"t":"SOLANA,H4  223.35 225.97 222.51 223.31","k":"txt"},{"i":4.5,"p":258.2,"t":"|","k":"left"},{"i":7,"p":258.2,"t":"15","k":"txt"},{"i":14,"p":258.2,"t":"|","k":"right"}],
"tag":[{"a":909,"b":927,"p":224.5,"q":222.2,"i":918,"y":223.31,"t":"223.31"}],
"macd":[{"i":0,"m":-0.77,"s":-0.72},{"i":2,"m":-0.85,"s":-0.79},{"i":4,"m":-0.85,"s":-0.83},{"i":6,"m":-0.89,"s":-0.87},{"i":8,"m":-1.02,"s":-0.98},{"i":10,"m":-1.23,"s":-1.11},{"i":12,"m":-0.81,"s":-1.02},{"i":14,"m":-0.38,"s":-0.7},{"i":16,"m":-0.13,"s":-0.43},{"i":18,"m":0.43,"s":0.04},{"i":20,"m":1.32,"s":0.47},{"i":22,"m":2.96,"s":1.32},{"i":24,"m":3.98,"s":2.38},{"i":26,"m":5.57,"s":3.77},{"i":28,"m":6.53,"s":4.72},{"i":30,"m":6.85,"s":5.79},{"i":32,"m":6.91,"s":6.53},{"i":34,"m":7.23,"s":6.85},{"i":36,"m":6.89,"s":7},{"i":38,"m":6.43,"s":6.85},{"i":40,"m":5.68,"s":6.32},{"i":42,"m":5.4,"s":5.68},{"i":44,"m":5.15,"s":5.36},{"i":46,"m":4.62,"s":4.83},{"i":48,"m":3.19,"s":4.4},{"i":50,"m":3.13,"s":3.66},{"i":52,"m":4.09,"s":3.45},{"i":54,"m":4.19,"s":3.49},{"i":56,"m":3.62,"s":3.77},{"i":58,"m":3.13,"s":3.77},{"i":60,"m":2.38,"s":3.02},{"i":62,"m":1.21,"s":2.17},{"i":64,"m":0.26,"s":1.21},{"i":66,"m":0.04,"s":0.47},{"i":68,"m":-0.38,"s":-0.06},{"i":70,"m":-1.02,"s":-0.6},{"i":72,"m":-1.23,"s":-1.02},{"i":74,"m":-1.66,"s":-1.34},{"i":76,"m":-1.81,"s":-1.55},{"i":78,"m":-1.38,"s":-1.55},{"i":80,"m":-0.49,"s":-1.23},{"i":82,"m":-0.91,"s":-1.02},{"i":84,"m":-1.98,"s":-1.45},{"i":86,"m":-2.26,"s":-1.77},{"i":88,"m":-1.34,"s":-1.91},{"i":90,"m":-1.23,"s":-1.87},{"i":92,"m":-1.13,"s":-1.34},{"i":94,"m":-0.64,"s":-1.23},{"i":96,"m":-0.38,"s":-0.77},{"i":98,"m":0.15,"s":-0.28},{"i":100,"m":0.68,"s":0.15},{"i":102,"m":2.38,"s":0.79},{"i":104,"m":2.6,"s":1.74},{"i":106,"m":2.98,"s":2.38},{"i":108,"m":3.96,"s":3.02},{"i":110,"m":3.55,"s":3.45},{"i":112,"m":2.49,"s":3.34},{"i":114,"m":1.74,"s":2.6},{"i":116,"m":1.64,"s":2.06},{"i":118,"m":1,"s":1.64},{"i":120,"m":0.15,"s":0.79},{"i":122,"m":-0.34,"s":0.04},{"i":124,"m":0.26,"s":0.15},{"i":126,"m":0.62,"s":0.26},{"i":128,"m":0.15,"s":0.43},{"i":130,"m":0.26,"s":0.47},{"i":132,"m":0.68,"s":0.43},{"i":134,"m":0.43,"s":0.51},{"i":136,"m":0.15,"s":0.51},{"i":138,"m":-0.6,"s":0.15},{"i":140,"m":-0.7,"s":-0.28},{"i":142,"m":-0.91,"s":-0.6},{"i":144,"m":-1.45,"s":-1.02},{"i":146,"m":-2.51,"s":-1.77},{"i":148,"m":-3.36,"s":-2.09},{"i":150,"m":-3.79,"s":-2.94},{"i":152,"m":-4.96,"s":-3.89},{"i":154,"m":-5.06,"s":-4.64},{"i":156,"m":-4.85,"s":-4.89},{"i":158,"m":-4.96,"s":-4.96},{"i":160,"m":-5.21,"s":-5},{"i":162,"m":-4.43,"s":-4.74},{"i":164,"m":-4,"s":-4.43},{"i":166,"m":-3.74,"s":-4},{"i":168,"m":-3.04,"s":-3.47},{"i":170,"m":-1.87,"s":-2.72},{"i":172,"m":-1.23,"s":-1.87},{"i":174,"m":-1.17,"s":-1.34},{"i":176,"m":-1.23,"s":-1.23},{"i":178,"m":-1.23,"s":-1.19},{"i":180,"m":-1.34,"s":-1.23},{"i":182,"m":-1.45,"s":-1.28},{"i":184,"m":-1.66,"s":-1.45},{"i":186,"m":-3.04,"s":-2.19},{"i":188,"m":-3.4,"s":-2.72},{"i":190,"m":-3.15,"s":-3.11},{"i":192,"m":-2.83,"s":-3.11},{"i":194,"m":-2.09,"s":-2.72},{"i":196,"m":-1.77,"s":-2.09},{"i":198,"m":-1.55,"s":-1.66},{"i":200,"m":-1.45,"s":-1.55},{"i":202,"m":-0.81,"s":-1.23},{"i":204,"m":-0.6,"s":-0.91},{"i":206,"m":-0.49,"s":-0.6},{"i":208,"m":0.26,"s":-0.17},{"i":210,"m":1,"s":0.26},{"i":212,"m":1.74,"s":1},{"i":214,"m":2.06,"s":1.74},{"i":216,"m":3.13,"s":2.17},{"i":218,"m":3.66,"s":2.91},{"i":220,"m":3.87,"s":3.45},{"i":222,"m":3.34,"s":3.55},{"i":224,"m":2.38,"s":3.13},{"i":226,"m":1.85,"s":2.6},{"i":228,"m":0.04,"s":1.32},{"i":230,"m":-2.19,"s":-0.81},{"i":232,"m":-3.04,"s":-2.09},{"i":234,"m":-3.26,"s":-2.94},{"i":236,"m":-3.4,"s":-3.26},{"i":238,"m":-3.57,"s":-3.47},{"i":240,"m":-3.57,"s":-3.57},{"i":242,"m":-2.83,"s":-3.51},{"i":244,"m":-2.4,"s":-3.26},{"i":246,"m":-1.02,"s":-2.09},{"i":248,"m":0.04,"s":-0.91},{"i":250,"m":1,"s":0.26},{"i":252,"m":0.68,"s":0.57},{"i":254,"m":0.26,"s":0.72},{"i":256,"m":-0.38,"s":0.36},{"i":258,"m":-0.81,"s":-0.28},{"i":260,"m":-1.23,"s":-0.7},{"i":262,"m":-1.45,"s":-1.13},{"i":264,"m":-1.55,"s":-1.34},{"i":266,"m":-1.87,"s":-1.6},{"i":268,"m":-1.66,"s":-1.7},{"i":270,"m":-1.34,"s":-1.66},{"i":272,"m":-1.66,"s":-1.55},{"i":274,"m":-2.19,"s":-1.77},{"i":276,"m":-2.51,"s":-2.09},{"i":278,"m":-2.94,"s":-2.51},{"i":280,"m":-3.57,"s":-3.04},{"i":282,"m":-4,"s":-3.57},{"i":284,"m":-4.53,"s":-4},{"i":286,"m":-4.32,"s":-4.21},{"i":288,"m":-3.68,"s":-4.17},{"i":290,"m":-1.87,"s":-3.57},{"i":292,"m":-1.34,"s":-2.62},{"i":294,"m":0.04,"s":-1.23},{"i":296,"m":1,"s":-0.17},{"i":298,"m":1.43,"s":0.68},{"i":300,"m":1.6,"s":1.11},{"i":302,"m":1.49,"s":1.43},{"i":304,"m":1.49,"s":1.49},{"i":306,"m":1,"s":1.32},{"i":308,"m":0.89,"s":1.21},{"i":310,"m":0.15,"s":0.79},{"i":312,"m":0.04,"s":0.36},{"i":314,"m":0.15,"s":0.15},{"i":316,"m":0.09,"s":0.09},{"i":318,"m":0.26,"s":0.26},{"i":320,"m":1.74,"s":0.79},{"i":322,"m":2.28,"s":1.53},{"i":324,"m":2.49,"s":2.06},{"i":326,"m":2.6,"s":2.38},{"i":328,"m":2.38,"s":2.49},{"i":330,"m":2.81,"s":2.55},{"i":332,"m":3.02,"s":2.74},{"i":334,"m":2.81,"s":2.74},{"i":336,"m":2.28,"s":2.7},{"i":338,"m":0.89,"s":1.85},{"i":340,"m":0.57,"s":1},{"i":342,"m":0.47,"s":0.68},{"i":344,"m":1.11,"s":0.68},{"i":346,"m":1.43,"s":1},{"i":348,"m":1.32,"s":1.21},{"i":350,"m":1.21,"s":1.28},{"i":352,"m":1,"s":1.15},{"i":354,"m":0.68,"s":0.79},{"i":356,"m":-0.17,"s":0.15},{"i":358,"m":-0.38,"s":-0.17},{"i":360,"m":-0.7,"s":-0.49},{"i":362,"m":-0.85,"s":-0.7},{"i":364,"m":-0.85,"s":-0.81},{"i":366,"m":-0.17,"s":-0.7},{"i":368,"m":0.15,"s":-0.28},{"i":370,"m":0.53,"s":0.15},{"i":372,"m":0.36,"s":0.36},{"i":374,"m":0.15,"s":0.34},{"i":376,"m":0.09,"s":0.15},{"i":378,"m":0.15,"s":0.15},{"i":380,"m":0.26,"s":0.21},{"i":382,"m":0.47,"s":0.3},{"i":384,"m":1,"s":0.57},{"i":386,"m":1.53,"s":1},{"i":388,"m":2.06,"s":1.53},{"i":390,"m":2.17,"s":1.96},{"i":392,"m":2.81,"s":2.38},{"i":394,"m":3.7,"s":2.91},{"i":396,"m":3.77,"s":3.34},{"i":398,"m":3.55,"s":3.55},{"i":400,"m":3.23,"s":3.55},{"i":402,"m":2.28,"s":3.13},{"i":404,"m":2.06,"s":2.6},{"i":406,"m":1.96,"s":2.06},{"i":408,"m":1.74,"s":1.85},{"i":410,"m":2.43,"s":2.06},{"i":412,"m":1.96,"s":2.06},{"i":414,"m":1.32,"s":1.85},{"i":416,"m":0.68,"s":1.21},{"i":418,"m":0.43,"s":0.68},{"i":420,"m":0.57,"s":0.57},{"i":422,"m":0.79,"s":0.68},{"i":424,"m":1.96,"s":1.32},{"i":426,"m":2.91,"s":2.38},{"i":428,"m":3.62,"s":3.13},{"i":430,"m":3.66,"s":3.55},{"i":432,"m":4.19,"s":3.98},{"i":434,"m":4.83,"s":4.3},{"i":436,"m":4.62,"s":4.62},{"i":438,"m":3.87,"s":4.55},{"i":440,"m":3.34,"s":4.09},{"i":442,"m":3.23,"s":3.55},{"i":444,"m":2.96,"s":3.23},{"i":446,"m":3.13,"s":3.06},{"i":448,"m":3.28,"s":3.13},{"i":450,"m":3.55,"s":3.23},{"i":452,"m":4.62,"s":3.98},{"i":454,"m":6.11,"s":5.15},{"i":456,"m":6.43,"s":5.79},{"i":458,"m":7.06,"s":6.32},{"i":460,"m":7.49,"s":6.96},{"i":462,"m":7.6,"s":7.17},{"i":464,"m":6.64,"s":7.28},{"i":466,"m":4.09,"s":6.32},{"i":468,"m":1.32,"s":4.83},{"i":470,"m":0.68,"s":2.81},{"i":472,"m":0.47,"s":1.53},{"i":474,"m":-0.06,"s":0.47},{"i":476,"m":-1.66,"s":-0.81},{"i":478,"m":-2.3,"s":-1.77},{"i":480,"m":-1.45,"s":-1.87},{"i":482,"m":-1.02,"s":-1.66},{"i":484,"m":-0.81,"s":-1.23},{"i":486,"m":-0.49,"s":-0.81},{"i":488,"m":-0.28,"s":-0.49},{"i":490,"m":0.04,"s":-0.17},{"i":492,"m":0.79,"s":0.26},{"i":494,"m":1.32,"s":0.72},{"i":496,"m":0.04,"s":0.72},{"i":498,"m":-0.28,"s":0.36},{"i":500,"m":-1.02,"s":-0.38},{"i":502,"m":-1.66,"s":-1.23},{"i":504,"m":-2.09,"s":-1.77},{"i":506,"m":-2.3,"s":-2.09},{"i":508,"m":-2.62,"s":-2.3},{"i":510,"m":-2.09,"s":-2.19},{"i":512,"m":-1.98,"s":-2.09},{"i":514,"m":-3.79,"s":-2.94},{"i":516,"m":-4.64,"s":-3.79},{"i":518,"m":-4.96,"s":-4.53},{"i":520,"m":-5.28,"s":-5.06},{"i":522,"m":-5.6,"s":-5.49},{"i":524,"m":-6.17,"s":-5.81},{"i":526,"m":-5.91,"s":-5.87},{"i":528,"m":-5.49,"s":-5.7},{"i":530,"m":-4.64,"s":-5.28},{"i":532,"m":-3.57,"s":-4.53},{"i":534,"m":-3.04,"s":-3.79},{"i":536,"m":-1.87,"s":-2.72},{"i":538,"m":-1.23,"s":-1.66},{"i":540,"m":-1.34,"s":-1.4},{"i":542,"m":-1.55,"s":-1.45},{"i":544,"m":-1.6,"s":-1.49},{"i":546,"m":-1.23,"s":-1.45},{"i":548,"m":-0.6,"s":-1.13},{"i":550,"m":0.04,"s":-0.38},{"i":552,"m":0.57,"s":0.15},{"i":554,"m":1.53,"s":1},{"i":556,"m":2.28,"s":1.74},{"i":558,"m":2.6,"s":2.28},{"i":560,"m":2.91,"s":2.7},{"i":562,"m":3.23,"s":3.02},{"i":564,"m":3.55,"s":3.28},{"i":566,"m":4.09,"s":3.62},{"i":568,"m":3.77,"s":3.77},{"i":570,"m":3.7,"s":3.77},{"i":572,"m":3.7,"s":3.74},{"i":574,"m":3.45,"s":3.7},{"i":576,"m":2.38,"s":3.23},{"i":578,"m":1.43,"s":2.28},{"i":580,"m":0.85,"s":1.32},{"i":582,"m":1.11,"s":1.21},{"i":584,"m":3.87,"s":1.96},{"i":586,"m":5.79,"s":3.66},{"i":588,"m":6.43,"s":5.36},{"i":590,"m":6.85,"s":6.21},{"i":592,"m":7.45,"s":6.68},{"i":594,"m":6.53,"s":6.74},{"i":596,"m":4.94,"s":6.11},{"i":598,"m":4.09,"s":5.04},{"i":600,"m":2.38,"s":3.77},{"i":602,"m":0.89,"s":2.06},{"i":604,"m":0.36,"s":0.89},{"i":606,"m":0.04,"s":0.36},{"i":608,"m":0.47,"s":0.26},{"i":610,"m":0.72,"s":0.36},{"i":612,"m":0.57,"s":0.51},{"i":614,"m":-0.17,"s":0.26},{"i":616,"m":-1.02,"s":-0.38},{"i":618,"m":-1.87,"s":-0.81},{"i":620,"m":-2.4,"s":-1.66},{"i":622,"m":-2.72,"s":-2.51},{"i":624,"m":-3.04,"s":-2.83},{"i":626,"m":-3.04,"s":-2.87},{"i":628,"m":-2.51,"s":-2.83},{"i":630,"m":-1.66,"s":-2.4},{"i":632,"m":-0.7,"s":-1.45},{"i":634,"m":-0.55,"s":-0.91},{"i":636,"m":-0.85,"s":-0.77},{"i":638,"m":-1.02,"s":-0.85},{"i":640,"m":-0.7,"s":-0.85},{"i":642,"m":1,"s":-0.17},{"i":644,"m":2.17,"s":1.43},{"i":646,"m":4.3,"s":2.6},{"i":648,"m":5.15,"s":4.09},{"i":650,"m":6.43,"s":5.47},{"i":652,"m":6.21,"s":6},{"i":654,"m":6,"s":6},{"i":656,"m":4.94,"s":5.79},{"i":658,"m":3.34,"s":5.36},{"i":660,"m":1.85,"s":3.55},{"i":662,"m":-0.17,"s":1.53},{"i":664,"m":-0.98,"s":-0.28},{"i":666,"m":-0.7,"s":-0.64},{"i":668,"m":0.47,"s":-0.49},{"i":670,"m":1.74,"s":0.47},{"i":672,"m":2.87,"s":1.96},{"i":674,"m":4.09,"s":3.02},{"i":676,"m":4.51,"s":3.77},{"i":678,"m":4.62,"s":4.4},{"i":680,"m":5.15,"s":4.72},{"i":682,"m":4.4,"s":4.68},{"i":684,"m":2.38,"s":3.98},{"i":686,"m":1,"s":2.17},{"i":688,"m":0.36,"s":1},{"i":690,"m":0.26,"s":0.47},{"i":692,"m":0.15,"s":0.26},{"i":694,"m":-0.17,"s":0.09},{"i":696,"m":-0.7,"s":-0.28},{"i":698,"m":-1.13,"s":-0.7},{"i":700,"m":-1.55,"s":-1.13},{"i":702,"m":-1.02,"s":-1.19},{"i":704,"m":-0.81,"s":-1.19},{"i":706,"m":0.04,"s":-0.81},{"i":708,"m":1.11,"s":0.04},{"i":710,"m":1.74,"s":1.11},{"i":712,"m":2.06,"s":1.64},{"i":714,"m":1.85,"s":1.85},{"i":716,"m":1.11,"s":1.74},{"i":718,"m":0.36,"s":1.21},{"i":720,"m":0.26,"s":0.57},{"i":722,"m":0.57,"s":0.43},{"i":724,"m":0.26,"s":0.36},{"i":726,"m":-0.28,"s":0.15},{"i":728,"m":-0.7,"s":-0.28},{"i":730,"m":-0.98,"s":-0.7},{"i":732,"m":-0.81,"s":-0.81},{"i":734,"m":-0.6,"s":-0.81},{"i":736,"m":-0.06,"s":-0.49},{"i":738,"m":0.68,"s":0.04},{"i":740,"m":1.74,"s":0.79},{"i":742,"m":2.38,"s":1.85},{"i":744,"m":3.34,"s":2.6},{"i":746,"m":3.4,"s":3.13},{"i":748,"m":3.34,"s":3.34},{"i":750,"m":3.77,"s":3.4},{"i":752,"m":4.18,"s":3.54}],
"macdlabel":[{"i":2,"m":7.74,"t":"MACD(12,26,6) 4.178 3.537"}],
"zero":[{"a":0,"b":908.5,"m":0}]
},
"vconcat":[
{"width":1817,"height":678,"resolve":{"scale":{"color":"independent","size":"independent","strokeWidth":"independent"}},"layer":[
{"data":{"name":"grid"},"mark":{"type":"rule","color":"#e6e6e6","strokeDash":[4,3],"strokeWidth":1},"encoding":{"x":{"field":"i","type":"quantitative","scale":{"domain":[0,908.5]},"axis":null}}},
{"data":{"name":"zone"},"mark":{"type":"rect","color":"#ffc0cb"},"encoding":{"x":{"field":"a","type":"quantitative","scale":{"domain":[0,908.5]}},"x2":{"field":"b"},"y":{"field":"p","type":"quantitative","scale":{"domain":[90.9,263.7]},"axis":{"orient":"right","values":[259.9,251.4,242.9,234.65,226.15,217.65,209.4,200.9,192.65,184.15,175.65,167.4,158.9,150.4,142.15,133.65,125.15,116.9,108.4,99.9,91.65],"format":".2f","grid":true,"gridColor":"#e6e6e6","gridDash":[4,3],"labelPadding":1,"labelOverlap":false,"labelBound":false,"labelFlush":false}},"y2":{"field":"q"}}},
{"data":{"name":"bid"},"mark":{"type":"rule","color":"#e6e6e6","strokeWidth":1.2},"encoding":{"x":{"field":"a","type":"quantitative","scale":{"domain":[0,908.5]}},"x2":{"field":"b"},"y":{"field":"p","type":"quantitative","scale":{"domain":[90.9,263.7]}}}},
{"data":{"name":"bars"},"mark":{"type":"rule","color":"#000000","strokeWidth":1},"encoding":{"x":{"field":"i","type":"quantitative","scale":{"domain":[0,908.5]}},"y":{"field":"h","type":"quantitative","scale":{"domain":[90.9,263.7]}},"y2":{"field":"l"}}},
{"data":{"name":"lines"},"mark":{"type":"rule"},"encoding":{"x":{"field":"a","type":"quantitative","scale":{"domain":[0,908.5]}},"x2":{"field":"b"},"y":{"field":"p","type":"quantitative","scale":{"domain":[90.9,263.7]}},"y2":{"field":"q"},"color":{"field":"k","type":"nominal","legend":null,"scale":{"domain":["g","b","f","t"],"range":["#008000","#000000","#000080","#008000"]}},"strokeWidth":{"field":"k","type":"nominal","legend":null,"scale":{"type":"ordinal","domain":["g","b","f","t"],"range":[2.2,0.9,1,1]}}}},
{"data":{"name":"proj"},"mark":{"type":"line","color":"#ff0000","strokeWidth":2.4},"encoding":{"x":{"field":"i","type":"quantitative","scale":{"domain":[0,908.5]}},"y":{"field":"p","type":"quantitative","scale":{"domain":[90.9,263.7]}},"detail":{"field":"s"}}},
{"data":{"name":"boxes"},"mark":{"type":"rect","fill":null,"stroke":"#008000","strokeWidth":1},"encoding":{"x":{"field":"a","type":"quantitative","scale":{"domain":[0,908.5]}},"x2":{"field":"b"},"y":{"field":"p","type":"quantitative","scale":{"domain":[90.9,263.7]}},"y2":{"field":"q"}}},
{"data":{"name":"dots"},"mark":{"type":"point","filled":true,"opacity":1,"size":9,"shape":"square"},"encoding":{"x":{"field":"i","type":"quantitative","scale":{"domain":[0,908.5]}},"y":{"field":"p","type":"quantitative","scale":{"domain":[90.9,263.7]}},"color":{"field":"k","type":"nominal","legend":null,"scale":{"domain":["teal","black","wave","pink"],"range":["#0f7f9a","#111111","#1a1a80","#d0103a"]}}}},
{"data":{"name":"labels"},"mark":{"type":"text","baseline":"middle","align":"center"},"encoding":{"x":{"field":"i","type":"quantitative","scale":{"domain":[0,908.5]}},"y":{"field":"p","type":"quantitative","scale":{"domain":[90.9,263.7]}},"text":{"field":"t"},"color":{"field":"k","type":"nominal","legend":null,"scale":{"domain":["teal","black","wave","pink","zone","box"],"range":["#1e9ab8","#222222","#1a1a9c","#f0506e","#111111","#008000"]}},"size":{"field":"k","type":"nominal","legend":null,"scale":{"type":"ordinal","domain":["teal","black","wave","pink","zone","box"],"range":[14,13.5,14,9.5,14,20]}}}},
{"data":{"name":"fibtext"},"mark":{"type":"text","baseline":"middle","align":"left","font":"Liberation Serif","fontSize":11,"color":"#000080"},"encoding":{"x":{"field":"i","type":"quantitative","scale":{"domain":[0,908.5]}},"y":{"field":"p","type":"quantitative","scale":{"domain":[90.9,263.7]}},"text":{"field":"t"}}},
{"data":{"name":"hdr"},"mark":{"type":"text","baseline":"middle","align":"left","fontSize":9.5},"encoding":{"x":{"field":"i","type":"quantitative","scale":{"domain":[0,908.5]}},"y":{"field":"p","type":"quantitative","scale":{"domain":[90.9,263.7]}},"text":{"field":"t"},"color":{"field":"k","type":"nominal","legend":null,"scale":{"domain":["txt","left","right"],"range":["#000000","#5aa0e0","#f0a050"]}}}},
{"data":{"name":"tag"},"mark":{"type":"rect","color":"#000000"},"encoding":{"x":{"field":"a","type":"quantitative","scale":{"domain":[0,908.5]}},"x2":{"field":"b"},"y":{"field":"p","type":"quantitative","scale":{"domain":[90.9,263.7]}},"y2":{"field":"q"}}},
{"data":{"name":"tag"},"mark":{"type":"text","baseline":"middle","align":"center","fontSize":9.5,"color":"#ffffff"},"encoding":{"x":{"field":"i","type":"quantitative","scale":{"domain":[0,908.5]}},"y":{"field":"y","type":"quantitative","scale":{"domain":[90.9,263.7]}},"text":{"field":"t"}}}
]},
{"width":1817,"height":239,"layer":[
{"data":{"name":"grid"},"mark":{"type":"rule","color":"#e6e6e6","strokeDash":[4,3],"strokeWidth":1},"encoding":{"x":{"field":"i","type":"quantitative","scale":{"domain":[0,908.5]},"axis":{"values":[0,32,64,96,128,160,192,224,256,288,320,352,384,416,448,480,512,544,576,608,640,672,704,736],"labelExpr":"['5 May 2025','10 May 16:00','16 May 00:00','21 May 12:00','27 May 00:00','1 Jun 12:00','6 Jun 20:00','12 Jun 08:00','17 Jun 20:00','23 Jun 08:00','28 Jun 20:00','4 Jul 04:00','9 Jul 16:00','15 Jul 04:00','20 Jul 16:00','26 Jul 00:00','31 Jul 12:00','6 Aug 00:00','11 Aug 12:00','17 Aug 00:00','22 Aug 08:00','27 Aug 20:00','2 Sep 08:00','7 Sep 20:00'][datum.value/32]","labelAlign":"left","labelFlush":false,"labelOverlap":false,"labelBound":false,"labelPadding":2,"grid":false}}}},
{"data":{"name":"zero"},"mark":{"type":"rule","color":"#e6e6e6","strokeDash":[4,3],"strokeWidth":1},"encoding":{"x":{"field":"a","type":"quantitative","scale":{"domain":[0,908.5]}},"x2":{"field":"b"},"y":{"field":"m","type":"quantitative","scale":{"domain":[-6.89,8.36]},"axis":{"orient":"right","values":[7.914,0,-6.508],"labelExpr":"datum.value==0?'0.00':format(datum.value,'.3f')","grid":false,"labelPadding":1,"labelOverlap":false,"labelBound":false,"labelFlush":false}}}},
{"data":{"name":"macd"},"mark":{"type":"bar","color":"#000000","size":5},"encoding":{"x":{"field":"i","type":"quantitative","scale":{"domain":[0,908.5]}},"y":{"field":"m","type":"quantitative","scale":{"domain":[-6.89,8.36]}}}},
{"data":{"name":"macd"},"mark":{"type":"line","color":"#ff0000","strokeWidth":1,"strokeDash":[2,2]},"encoding":{"x":{"field":"i","type":"quantitative","scale":{"domain":[0,908.5]}},"y":{"field":"s","type":"quantitative","scale":{"domain":[-6.89,8.36]}}}},
{"data":{"name":"macdlabel"},"mark":{"type":"text","baseline":"middle","align":"left","fontSize":9.5,"color":"#000000"},"encoding":{"x":{"field":"i","type":"quantitative","scale":{"domain":[0,908.5]}},"y":{"field":"m","type":"quantitative","scale":{"domain":[-6.89,8.36]}},"text":{"field":"t"}}}
]}
]}
